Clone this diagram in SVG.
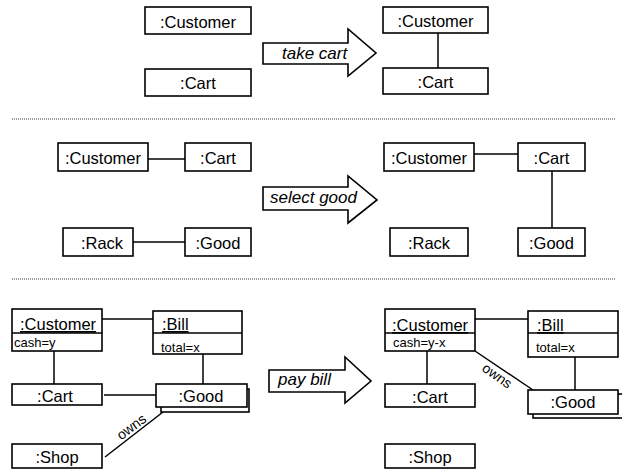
<svg xmlns="http://www.w3.org/2000/svg" width="622" height="470" viewBox="0 0 622 470">
<style>
.box{fill:#fff;stroke:#000;stroke-width:1.6}
.ln{stroke:#000;stroke-width:1.5;fill:none}
.sep{stroke:#333;stroke-width:1;stroke-dasharray:1,1}
.t{font-family:"Liberation Sans",Arial,sans-serif;font-size:16.5px;fill:#000}
.c{text-anchor:middle}
.s{font-size:13px}
.o{font-size:14px}
.i{font-style:italic;font-size:17px}
.arrow{fill:#fff;stroke:#000;stroke-width:1.6;stroke-linejoin:miter}
</style>
<rect width="622" height="470" fill="#fff"/>
<line class="sep" x1="12" y1="119" x2="616" y2="119"/>
<line class="sep" x1="12" y1="279" x2="616" y2="279"/>

<g id="connectors">
<line class="ln" x1="438" y1="33" x2="438" y2="68"/>
<line class="ln" x1="148" y1="159" x2="185" y2="159"/>
<line class="ln" x1="133" y1="242" x2="185" y2="242"/>
<line class="ln" x1="474" y1="154" x2="518" y2="154"/>
<line class="ln" x1="552" y1="171" x2="552" y2="228"/>
<line class="ln" x1="102" y1="319" x2="153" y2="319"/>
<line class="ln" x1="54" y1="351" x2="54" y2="384"/>
<line class="ln" x1="203" y1="354" x2="203" y2="384"/>
<line class="ln" x1="104" y1="395" x2="156" y2="395"/>
<line class="ln" x1="105" y1="457" x2="163" y2="412"/>
<text class="t o" text-anchor="middle" transform="translate(134.2,430.6) rotate(-37)">owns</text>
<line class="ln" x1="475" y1="319" x2="528" y2="319"/>
<line class="ln" x1="427" y1="351" x2="427" y2="384"/>
<line class="ln" x1="575" y1="357" x2="575" y2="390"/>
<line class="ln" x1="475" y1="351" x2="533" y2="390"/>
<text class="t o" text-anchor="middle" transform="translate(494.4,379.7) rotate(35)">owns</text>
</g>

<!-- Section 1 -->
<g id="s1-customer"><rect class="box" x="145" y="7" width="106" height="27"/><text class="t c" x="198" y="28">:Customer</text></g>
<g id="s1-cart"><rect class="box" x="145" y="69" width="106" height="27"/><text class="t c" x="198" y="89">:Cart</text></g>
<g id="s1-arrow"><polygon class="arrow" points="263,43 348,43 348,29 376,53 348,76 348,64 263,64"/><text class="t i" x="282" y="59">take cart</text></g>
<g id="s1-customer2"><rect class="box" x="383" y="7" width="105" height="26"/><text class="t c" x="435.5" y="27">:Customer</text></g>
<g id="s1-cart2"><rect class="box" x="383" y="68" width="105" height="26"/><text class="t c" x="435.5" y="88">:Cart</text></g>

<!-- Section 2 -->
<g id="s2-customer"><rect class="box" x="58" y="143" width="90" height="28"/><text class="t c" x="103" y="164">:Customer</text></g>
<g id="s2-cart"><rect class="box" x="185" y="143" width="66" height="28"/><text class="t c" x="218" y="164">:Cart</text></g>
<g id="s2-rack"><rect class="box" x="63" y="228" width="70" height="28"/><text class="t c" x="102" y="249">:Rack</text></g>
<g id="s2-good"><rect class="box" x="185" y="228" width="66" height="28"/><text class="t c" x="218" y="249">:Good</text></g>
<g id="s2-arrow"><polygon class="arrow" points="263,187 348,187 348,176 377,200 348,223 348,210 263,210"/><text class="t i" x="270" y="203">select good</text></g>
<g id="s2-customer2"><rect class="box" x="384" y="143" width="90" height="28"/><text class="t c" x="429" y="164">:Customer</text></g>
<g id="s2-cart2"><rect class="box" x="518" y="143" width="67" height="28"/><text class="t c" x="551.5" y="164">:Cart</text></g>
<g id="s2-rack2"><rect class="box" x="390" y="228" width="78" height="28"/><text class="t c" x="429" y="249">:Rack</text></g>
<g id="s2-good2"><rect class="box" x="518" y="228" width="67" height="28"/><text class="t c" x="551.5" y="249">:Good</text></g>

<!-- Section 3 left -->
<g id="s3-customer"><rect class="box" x="12" y="309" width="90" height="42"/><line class="ln" x1="12" y1="333" x2="102" y2="333"/><text class="t" x="20" y="330" text-decoration="underline">:Customer</text><text class="t s" x="14" y="347">cash=y</text></g>
<g id="s3-bill"><rect class="box" x="153" y="311" width="89" height="43"/><line class="ln" x1="153" y1="333" x2="242" y2="333"/><text class="t" x="162" y="330" text-decoration="underline">:Bill</text><text class="t s" x="161" y="352">total=x</text></g>
<g id="s3-cart"><rect class="box" x="12" y="384" width="90" height="21"/><text class="t c" x="55" y="402">:Cart</text></g>
<g id="s3-good"><rect class="box" x="161" y="389" width="88" height="23"/><rect class="box" x="156" y="384" width="91" height="23"/><text class="t c" x="201" y="402">:Good</text></g>
<g id="s3-shop"><rect class="box" x="12" y="444" width="90" height="24"/><text class="t c" x="57" y="463">:Shop</text></g>
<g id="s3-arrow"><polygon class="arrow" points="269,370 345,370 345,357 371,381 345,403 345,392 269,392"/><text class="t i" x="278" y="385">pay bill</text></g>

<!-- Section 3 right -->
<g id="s3-customer2"><rect class="box" x="385" y="309" width="90" height="42"/><line class="ln" x1="385" y1="333" x2="475" y2="333"/><text class="t" x="392" y="331" text-decoration="underline">:Customer</text><text class="t s" x="393" y="347">cash=y-x</text></g>
<g id="s3-bill2"><rect class="box" x="528" y="311" width="90" height="46"/><line class="ln" x1="528" y1="333" x2="618" y2="333"/><text class="t" x="537" y="331" text-decoration="underline">:Bill</text><text class="t s" x="536" y="352">total=x</text></g>
<g id="s3-cart2"><rect class="box" x="385" y="384" width="90" height="23"/><text class="t c" x="430" y="403">:Cart</text></g>
<g id="s3-good2"><rect class="box" x="533" y="394" width="95" height="24"/><rect class="box" x="528" y="390" width="90" height="24"/><text class="t c" x="573" y="408">:Good</text></g>
<g id="s3-shop2"><rect class="box" x="385" y="444" width="90" height="24"/><text class="t c" x="430" y="463">:Shop</text></g>
</svg>
